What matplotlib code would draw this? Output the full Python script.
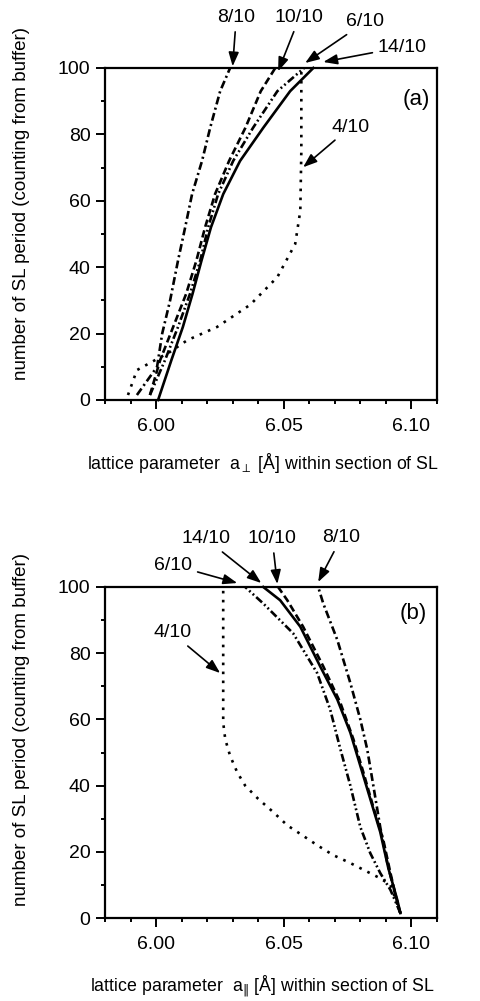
import numpy as np
import matplotlib.pyplot as plt
from matplotlib.ticker import MultipleLocator

plt.rcParams['font.family'] = ['Liberation Sans', 'DejaVu Sans']
plt.rcParams['mathtext.fontset'] = 'dejavusans'

# panel (a): lattice parameter perpendicular vs SL period
a_y_14 = [0, 12, 22, 32, 42, 52, 62, 72, 82, 93, 100]
a_x_14 = [6.0008, 6.0060, 6.0105, 6.0143, 6.0178, 6.0215, 6.0263, 6.0329, 6.0420, 6.0525, 6.0616]

a_y_10 = [1.5, 12, 22, 32, 42, 52, 62, 72, 82, 93, 100]
a_x_10 = [5.9976, 6.0016, 6.0067, 6.0118, 6.0158, 6.0192, 6.0231, 6.0286, 6.0350, 6.0410, 6.0467]

a_y_6 = [1.5, 12, 22, 32, 42, 52, 62, 72, 82, 93, 100]
a_x_6 = [5.9976, 6.0035, 6.0086, 6.0133, 6.0173, 6.0204, 6.0243, 6.0302, 6.0380, 6.0475, 6.0580]

a_y_8 = [1.5, 10, 20, 30, 42, 52, 62, 72, 82, 93, 100]
a_x_8 = [5.9925, 6.0004, 6.0024, 6.0055, 6.0086, 6.0114, 6.0141, 6.0180, 6.0212, 6.0251, 6.0290]

a_y_4 = [1.5, 9, 11.5, 14.5, 18, 22, 28.7, 37, 47, 57, 75, 100]
a_x_4 = [5.9890, 5.9925, 5.9984, 6.0055, 6.0122, 6.0239, 6.0369, 6.0475, 6.0545, 6.0565, 6.0569, 6.0569]

# panel (b): lattice parameter parallel vs SL period
b_y_14 = [1.5, 5.4, 15, 26, 36, 46, 56, 66, 76, 88, 96, 100]
b_x_14 = [6.0957, 6.0945, 6.0910, 6.0878, 6.0839, 6.0800, 6.0761, 6.0710, 6.0643, 6.0565, 6.0486, 6.0420]

b_y_10 = [1.5, 3.3, 13.6, 23.6, 33.5, 44, 54, 65, 76, 88, 96, 100]
b_x_10 = [6.0957, 6.0949, 6.0918, 6.0890, 6.0851, 6.0812, 6.0773, 6.0722, 6.0655, 6.0576, 6.0514, 6.0478]

b_y_6 = [1.5, 8.5, 13.6, 19.6, 27.5, 40, 51, 63, 74, 86, 95, 100]
b_x_6 = [6.0957, 6.0918, 6.0878, 6.0839, 6.0800, 6.0761, 6.0722, 6.0682, 6.0631, 6.0537, 6.0420, 6.0349]

b_y_8 = [1.5, 9.4, 16.6, 27.5, 40, 51, 60, 71, 84, 95, 100]
b_x_8 = [6.0957, 6.0929, 6.0906, 6.0878, 6.0851, 6.0827, 6.0800, 6.0761, 6.0710, 6.0655, 6.0635]

b_y_4 = [1.5, 10, 12, 14, 16.6, 19, 22, 25, 28, 32, 36, 40, 44, 49, 54, 59, 100]
b_x_4 = [6.0957, 6.0918, 6.0878, 6.0827, 6.0761, 6.0694, 6.0631, 6.0573, 6.0514, 6.0459,
         6.0400, 6.0349, 6.0318, 6.0290, 6.0271, 6.0263, 6.0263]

# labels: (text, text position, arrow tip)
a_labels = [('8/10', (6.0314, 115.1), (6.0300, 100.5)),
            ('10/10', (6.0561, 115.1), (6.0478, 99.0)),
            ('6/10', (6.0820, 113.9), (6.0584, 101.5)),
            ('14/10', (6.0965, 106.3), (6.0655, 101.8)),
            ('4/10', (6.0761, 82.2), (6.0576, 70.1))]
b_labels = [('14/10', (6.0196, 114.5), (6.0412, 101.2)),
            ('10/10', (6.0455, 114.5), (6.0475, 100.9)),
            ('8/10', (6.0725, 114.8), (6.0635, 101.5)),
            ('6/10', (6.0067, 106.6), (6.0318, 101.2)),
            ('4/10', (6.0063, 86.1), (6.0251, 74.0))]

styles = {
    '14': dict(ls='-'),
    '10': dict(dashes=[2.8, 1.4]),
    '8': dict(dashes=[3.0, 1.3, 0.8, 1.3]),
    '6': dict(dashes=[3.0, 1.1, 0.7, 1.1, 0.7, 1.1]),
    '4': dict(dashes=[1.0, 2.4]),
}

fig = plt.figure(figsize=(4.81, 10.01), dpi=100)
ax_a = fig.add_axes([0.2183, 0.6004, 0.690, 0.3317])
ax_b = fig.add_axes([0.2183, 0.0829, 0.690, 0.3307])

def setup(ax, xlabel, xlab_y, ylab_y, tag, tagpos):
    ax.set_xlim(5.98, 6.11)
    ax.set_ylim(0, 100)
    ax.xaxis.set_major_locator(MultipleLocator(0.05))
    ax.xaxis.set_minor_locator(MultipleLocator(0.01))
    ax.yaxis.set_major_locator(MultipleLocator(20))
    ax.yaxis.set_minor_locator(MultipleLocator(10))
    ax.set_xticks([6.00, 6.05, 6.10])
    ax.set_xticklabels(['6.00', '6.05', '6.10'])
    ax.tick_params(which='both', direction='out', top=False, right=False, width=1.4, labelsize=14)
    ax.tick_params(which='major', length=6.5)
    ax.tick_params(which='minor', length=3)
    ax.tick_params(axis='x', which='major', pad=6.5)
    ax.tick_params(axis='y', which='major', pad=4)
    for s in ax.spines.values():
        s.set_linewidth(1.6)
    ax.set_xlabel(xlabel, fontsize=12.8)
    ax.xaxis.set_label_coords(0.475, xlab_y)
    ax.set_ylabel('number of SL period (counting from buffer)', fontsize=13.5)
    ax.yaxis.set_label_coords(-0.225, ylab_y)
    ax.text(tagpos[0], tagpos[1], tag, fontsize=16, ha='center', va='center')

def draw(ax, curves, labels):
    for key, xs, ys in curves:
        ax.plot(xs, ys, color='black', lw=1.9, clip_on=False, **styles[key])
    for txt, tpos, tip in labels:
        ax.annotate(txt, xy=tip, xytext=tpos, ha='center', va='center', fontsize=14,
                    annotation_clip=False,
                    arrowprops=dict(arrowstyle='-|>,head_length=0.6,head_width=0.22',
                                    color='black', lw=1.2, shrinkA=2, shrinkB=0))

draw(ax_a, [('14', a_x_14, a_y_14), ('10', a_x_10, a_y_10), ('6', a_x_6, a_y_6),
            ('8', a_x_8, a_y_8), ('4', a_x_4, a_y_4)], a_labels)
draw(ax_b, [('14', b_x_14, b_y_14), ('10', b_x_10, b_y_10), ('6', b_x_6, b_y_6),
            ('8', b_x_8, b_y_8), ('4', b_x_4, b_y_4)], b_labels)

setup(ax_a, r'lattice parameter  a$_{\perp}$ [Å] within section of SL', -0.155, 0.593, '(a)', (6.102, 90.6))
setup(ax_b, r'lattice parameter  a$_{\Vert}$ [Å] within section of SL', -0.17, 0.568, '(b)', (6.1008, 92.1))

fig.savefig('out.png', dpi=100)
